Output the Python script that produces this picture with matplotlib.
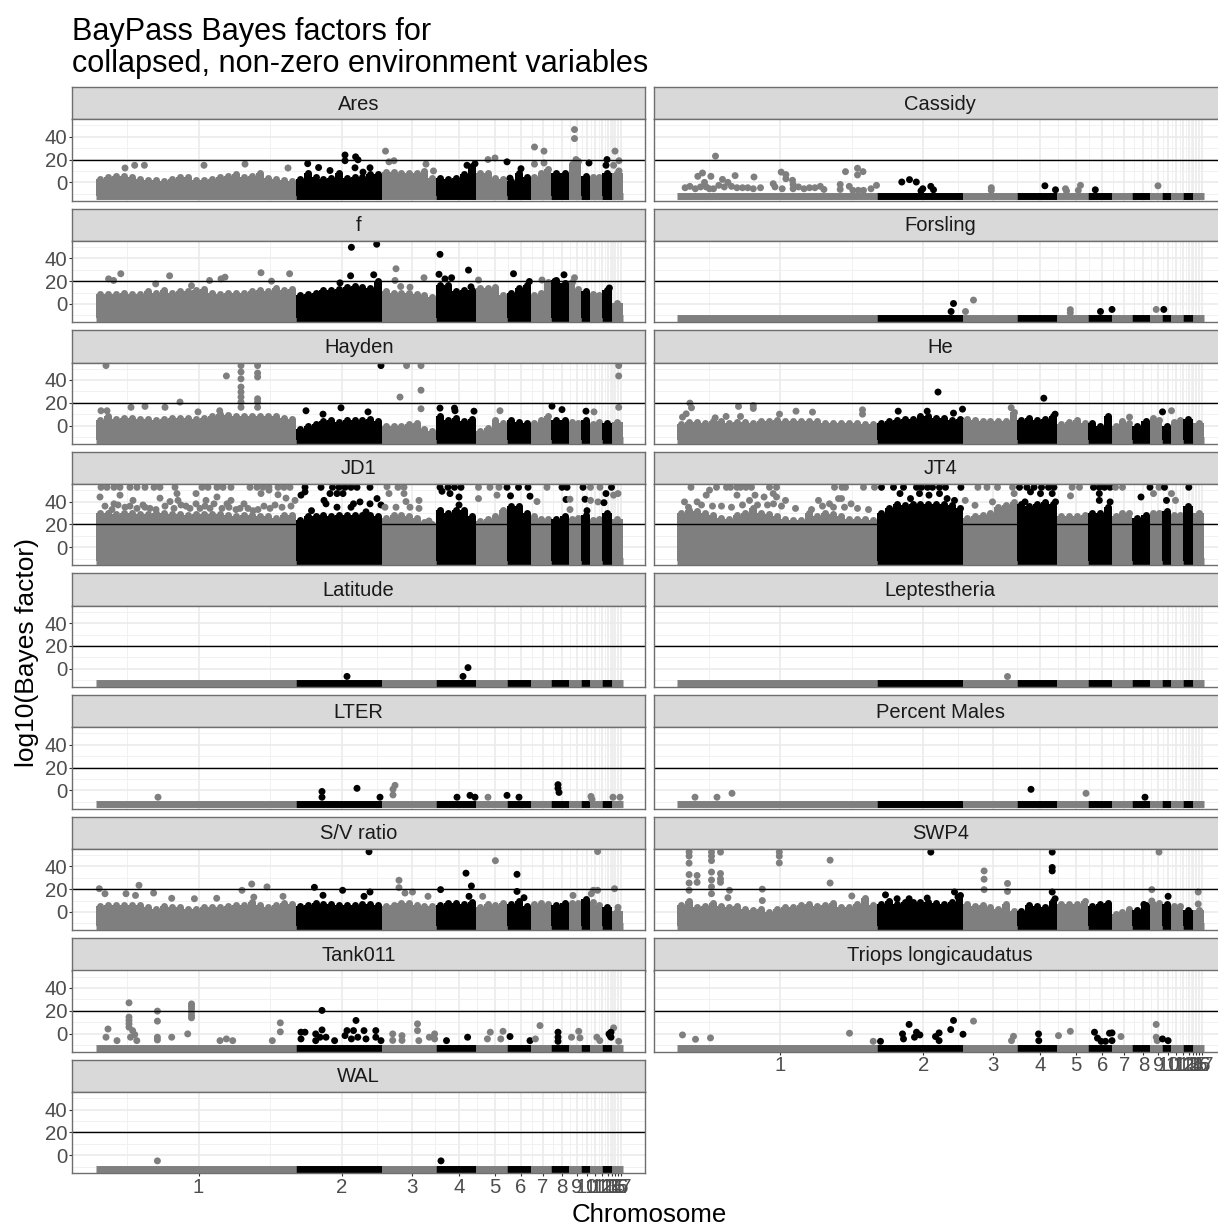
import numpy as np
import matplotlib
matplotlib.use("Agg")
import matplotlib.pyplot as plt

plt.rcParams['font.family'] = ['Liberation Sans', 'DejaVu Sans']

# ---------- chromosomes (cumulative genome position) ----------
chrom_labels = [str(i) for i in range(1, 18)]
chrom_mids = [198.6, 341.7, 411.6, 458.8, 494.5, 521, 543, 562, 577, 587, 595, 602, 607.5, 611.5, 615, 618, 621]
chrom_edges = [95.5, 296, 382, 436, 476, 507, 531, 551, 569, 581, 590, 602, 612, 622.5]
bins_per_block = [25, 11, 7, 5, 4, 3, 3, 2, 2, 1, 2, 1, 1]
threshold = 20
floor_value = -12.3

# ---------- upper envelope of the dense point clouds, per genome bin ----------
ares_top = [3,5,6,6,5,3,2,2,1,3,5,5,2,2,3,5,6,7,5,6,8,4,3,2,1, 3,8,5,3,4,8,4,5,5,7,7, 9,9,8,8,8,10,4,
            4,3,4,7,14, 8,8,4,3, 1,8,5, 5,8,12, 8,8, 16,19, 6, 5,5, 8, 8]
f_top = [9,9,9,10,9,9,11,10,12,10,11,11,12,13,10,9,10,10,10,11,12,11,14,12,13, 8,9,10,12,12,13,15,16,15,14,20,
         11,10,10,10,9,8,6, 17,17,11,12,12, 14,14,15,8, 10,14,17, 8,10,19, 21,18, 19,13, 11, 9,8, 12, 1]
hayden_top = [5,8,6,7,7,6,6,5,6,7,7,7,6,7,8,10,9,8,8,8,8,8,8,7,6, -3,0,1,4,5,3,5,5,5,6,4,
              0,0,0,1,2,-3,-5, 8,5,7,4,6, -5,-2,5,2, 5,3,2, 2,5,8, 5,5, 3,2, 5, 1,3, 2, 3]
he_top = [1,3,3,2,4,4,2,3,3,2,4,4,5,4,4,4,4,4,2,2,2,2,2,1,1, 2,4,5,6,6,8,8,7,7,5,6,
          6,5,4,4,4,4,12, 5,7,5,6,8, 1,3,5,2, 2,0,8, 0,4,2, 0,4, 7,5, 0, 3,5, 6, 2]
jd1_top = [30,30,29,30,30,29,29,30,30,29,29,28,29,29,29,29,28,27,28,28,27,27,26,28,28,
           24,27,27,28,27,28,28,28,28,28,27, 26,28,28,27,26,22,20, 33,30,33,33,27,
           23,25,27,33, 36,36,30, 27,25,25, 25,27, 25,26, 28, 24,25, 30, 25]
jt4_top = [30,33,32,30,28,26,25,28,30,34,30,29,27,25,24,24,30,27,30,29,27,25,25,25,24,
           30,34,38,37,38,38,38,38,38,37,34, 26,27,28,30,35,37,40, 38,36,38,40,38,
           27,27,27,28, 30,30,35, 27,30,30, 26,28, 30,30, 32, 28,28, 36, 30]
sv_top = [5,6,6,6,6,6,4,3,5,4,4,3,3,4,4,4,5,6,6,9,6,4,6,8,7, 5,6,8,7,7,6,6,6,7,7,6,
          5,6,8,8,6,5,5, 6,8,8,7,9, 4,7,6,8, 7,10,5, 7,8,7, 6,8, 8,8, 11, 9,6, 4, 1]
swp4_top = [6,10,4,5,8,5,4,5,3,2,3,0,3,4,4,6,7,5,6,8,4,4,7,12,6, 7,10,7,9,9,9,9,8,7,9,15,
            7,5,6,4,3,7,1, 1,6,5,4,10, 7,7,7,10, 5,7,8, -2,0,3, 2,6, 7,8, 7, 5,5, 2, 2]

# ---------- individual points: (genome position, log10 Bayes factor) ----------
ares_pts = [(125,12.6),(134.7,15),(144.4,15),(204,15),(245,16),(288,12.6),(307.7,16.4),(318.6,13),(330,10.4),
            (345,24),(345,19),(355.6,22.4),(358,19.8),(355,12.8),(370,12.8),(363,9),(385.5,27.4),(389,18),(394,19),
            (426,16),(433.5,10),(475,16.4),(467,15),(488,20),(495,21.4),(507,18),(510,3.7),(521,12),(534.5,31),
            (544,27.4),(534.5,16),(544,17),(574.5,46.3),(574.5,38.4),(576,20),(589,17),(607,20),(606,15),(613.6,15),
            (615,27.4),(619,19),(619,10),(619,3)]
f_pts = [(108.6,22),(120.8,26.5),(113.6,20.6),(169.6,24.7),(155.7,17.6),(191.5,16),(209.6,20.6),(221,22),(225,23.5),
         (261,27.4),(271.5,20),(289.6,26.5),(351.4,49.7),(376.7,52.4),(350.6,24.7),(373.7,25.6),(340,18.5),(396,30.9),
         (395,20.6),(400.7,15.3),(410,14.7),(424,23),(440,43.5),(439,26),(468.5,29.7),(445,22),(451.6,23),(471,15),
         (478.5,21),(513.5,26.5),(529.4,19.7),(542,21),(564,25.6),(555,20),(574.5,23),(609.4,14)]
hayden_pts = [(106,52.6),(226.4,43.5),(241,52.6),(241,47),(241,41),(241,33.8),(241,29.4),(241,25),(241,20.6),(241,16),
              (257.6,52.6),(257.6,46),(257.6,42.6),(257.6,23.5),(257.6,20.6),(257.6,16),(180,20.6),(165,16),(131,16),
              (145,16.8),(101,13),(107,13),(219.7,13),(198,12),(381,52.6),(306,13),(323,10),(341,15.6),(368,12),
              (406.6,52.6),(421,52.6),(421,31),(400,25),(421,14.7),(440,15.3),(454.5,15.3),(455,13),(474,12.6),
              (500,13),(552,17),(562,14),(586,12.6),(594,12),(618.7,52.6),(618.7,43.5),(618.7,16)]
he_pts = [(108.4,19.7),(110,15.6),(104.7,10.3),(101,7.4),(157,16.8),(171.8,17.6),(171.8,15),(133.7,6.8),(144.6,8),
          (159,8),(214.5,12.6),(231,11.8),(198,10),(281,13.8),(281,10),(356.5,29.4),(381,14.4),(316.7,12.6),
          (345.7,12.6),(372,10.9),(429.7,15.6),(462.3,24),(473.6,10),(548,7.4),(581,12),(590,13)]
jd1_pts = [(101,52.5),(107,52.5),(114,52.5),(120,52.5),(130,52.5),(137,52.5),(145,52.5),(154,52.5),(160,52.5),(175,52.5),
           (202,52.5),(208,52.5),(217,52.5),(223,52.5),(231,52.5),(250,52.5),(257,52.5),(263,52.5),(269,52.5),(278,52.5),
           (284,52.5),(290,52.5),(100,44),(120,45.6),(114,38),(133,41),(143,37),(160,43),(170,40),(177,47),(181,37),
           (196,47),(206,41),(217,44),(227,38),(231,41),(244,38),(261,47),(269,50),(278,46),(286,43),(295,41),(253,32),
           (125,35),(150,34),(190,34),(210,34),(240,34),(270,34),
           (105,36),(112,33),(118,37),(130,36),(137,34),(145,35),(156,33),(165,36),(174,34),(178,41),(186,36),(196,38),
           (200,34),(205,36),(214,38),(222,34),(229,35),(236,33),(248,34),(258,33),(264,36),(275,37),(282,35),(291,36),
           (305,52.5),(321,52.5),(332.5,52.5),(339,52.5),(345,52.5),(351,52.5),(357,52.5),(370,52.5),(305,48.5),(301,45.6),
           (330,47),(337,47),(343,47),(377,42.6),(324,41),(326,38),(360,39.7),(353.5,38),(370,38),(381,37),(311.5,32),
           (337,35),(351,35),(366,31),
           (387,53),(398,52.5),(404,52.5),(389,47),(404,47),(406,40),(396,35),(419,41),(419,34),(385,35),(410,35),(429,23),
           (440,52.5),(448,52.5),(454.5,52.5),(461,52.5),(442,49),(450,47),(459,44),(459,37),
           (478.5,52.5),(490,52.5),(499,52.5),(507,52.5),(478.5,42.6),(497,45.6),
           (510.5,45),(518.5,52.5),(528,52.5),(530,44.7),(537,40),(547,52.5),(562,52.5),(567,52.5),(566,41.8),(570,33),
           (570,42),(583,52.5),(585,42),(590.5,41),(590.5,52.5),(587,32),(600,52.5),(598,39.7),(604,39),
           (611.5,52.5),(606,47),(613.6,45.6),(618,47)]
jt4_pts = [(109.5,52.5),(135,52.5),(145,52.5),(149,52.5),(155.5,52.5),(159,52.5),(164.5,52.5),(170,52.5),(188,52.5),(195,52.5),
           (253,52.5),(260.5,52.5),(264,52.5),(282,52.5),(293,52.5),(128,50),(124.7,45.6),(155.5,45.6),(191.7,47),(195,44),
           (173.5,45.6),(182.6,44),(257,42.6),(260,42.6),(103,39.7),(237,41),(168,41),(204,41),(115.6,39.7),(248,38),(269.6,38),
           (107,35),(120,37),(131,36),(140,36),(150,35),(161,37),(176,37),(186,37),(192,38),(200,36),(214,34),(230,33),
           (241,36),(252,35),(263,35),(276,34),(287,33),
           (300,52.5),(312,52.5),(322,52.5),(335,52.5),(340,52.5),(346,52.5),(351,52.5),(358,52.5),(364,52.5),(379.4,52.5),
           (318.5,47),(338,47),(347.5,45.6),(358,47),(329,42.6),(365.6,42.6),(373,41),(383.7,41),
           (396.4,52.5),(405.5,52.5),(416,52.5),(431,52.5),(432.6,47),(393.5,36.7),(411,39.7),
           (438,52.5),(445.4,52.5),(452.6,52.5),(460,52.5),(467,52.5),(472.5,52.5),(449,48.5),(459,47),(470.7,47),(443.5,39.7),(474,39.7),
           (490.6,52.5),(498,52.5),(512,52.5),(489,45),(517.8,52.5),(523,52.5),(528.6,52.5),(517.8,47),(517.8,41),(528.6,39.7),
           (534,52.5),(541,52.5),(559.5,44),(568.5,52.5),(577.5,52.5),(583,52.5),(572,47),(590,47),(585,41),(594,41),(607.3,52.5)]
sv_pts = [(99.3,20.4),(105,16),(126,16),(139,23.4),(135.5,14.5),(153.6,16.6),(171.7,12),(194.4,11.6),(216.7,12),(242,19),
          (251.7,24.5),(267,22),(253.8,13),(283,13.7),(369,52.8),(314.4,21.6),(323,14.6),(342.6,19),(370,17.5),(364,13.7),
          (399,27.8),(399,21.3),(405,16.6),(428,13.7),(412.5,17.5),(440.6,19.6),(466,34),(471.4,22.8),(469,13.7),(495.4,45),
          (482.7,13.7),(517,33),(517,18),(524,12.5),(573,14.5),(591.3,16),(593.4,19),(597.6,53),(597.6,19),(614.5,20.4),(618,4)]
swp4_pts = [(107.6,52.5),(107.6,49),(107.6,42.8),(107.6,32.8),(107.6,25.4),(107.6,19),(115.6,32),(115.6,26),
            (130,52.5),(130,49),(130,45),(130,35),(130,28),(130,22),(130,16),(139,52.5),(139,33.7),(139,29),(139,26),
            (148,19),(146.4,12.5),(197.8,52.5),(197.8,49),(197.8,43),(180.8,20),(180.8,10),(248.6,45.4),(248.6,25.4),(270.3,14),
            (349.3,52.5),(304,15),(315.6,11.6),(327.6,11.6),(345.7,12.2),(373,17.5),(376.5,13),
            (402.6,36),(402.6,28.7),(402.6,19.6),(426,25),(426,18),(470.7,52.5),(470.7,39),(470.7,36),(470.7,17.5),(473.6,11.6),
            (562.4,6.6),(577.5,52.5),(570.3,19.6),(570.3,9.6),(586.6,13.7),(616.7,17.5),(616.7,7)]
cassidy_pts = [(134,23),(121,8.2),(116.3,5.3),(129.4,5.3),(153.6,5.9),(172.5,4.7),(199.7,9),(204.4,6.8),(204.4,3.2),(264,9.4),
               (276,12.4),(281.5,9.4),(276,6.5),(295,-2.6),(141,2.6),(123,0),(146.4,0),(211,1.8),(211.6,-1.8),
               (103.6,-4.7),(108.4,-3.5),(113.8,-5.6),(119,-4),(124.7,-4),(128,-5.6),(132,-5.6),(137.3,-2.6),(142.8,-4),(150,-3.5),
               (155.5,-4.7),(161,-4.7),(166.3,-4.7),(171.8,-5.6),(179,-4.7),(191.7,-1.2),(193.5,-4),(200.7,-5.6),(211.6,-5.6),
               (217,-4),(222.5,-5.6),(228,-4.7),(233.4,-4.7),(238.8,-3.5),(242.4,-6.2),(258.7,-1.8),(258.7,-6.2),(267.8,-3.5),
               (271.4,-7),(276.8,-7),(282,-7),(289.5,-5.6),(320.3,0.3),(328,2.4),(334.8,0.3),(349.3,-3.5),(341.3,-5.6),(339.5,-7.5),
               (352,-6.5),(409.8,-4.7),(409.8,-7),(463.4,-3),(474,-6.5),(484,-5.6),(485,-7.6),(499,-2.6),(496.8,-7),(513.8,-6.5),(576.5,-3)]
forsling_pts = [(372,0.4),(392,3.4),(369.6,-6.6),(384,-6.6),(488.8,-5),(488.8,-7.8),(519,-6.6),(530.5,-4.8),(574.7,-4.8),(582.3,-4.8)]
latitude_pts = [(347,-6.7),(468,1),(463,-6.7)]
leptestheria_pts = [(425.5,-6.7)]
lter_pts = [(322,-1),(322,-6),(357,1.8),(380,-6),(393,1),(395,4.4),(393,-4),(158,-6),(457,-6),(470,-4.4),(475,-6),(488,-6),
            (507,-4.4),(519,-6),(558,5),(558,1.8),(559,-1.8),(591,-5.3),(592,-7.9),(613,-6),(620,-6)]
males_pts = [(113.5,-6),(135.5,-6),(150.5,-2.6),(449.5,0.9),(504.5,-2.6),(563.5,-6)]
tank_pts = [(129,27),(129,14.4),(129,11.5),(129,8.5),(129,5.6),(132.6,2.6),(134.7,-0.9),(136.8,-6.2),(130.5,-3.2),(108,4),(106,-3.2),
            (117,-6.2),(157.4,19.7),(157.4,10.9),(157.4,-3.2),(157.4,-5.6),(171.7,-3.2),(187.7,-0.3),(191.5,26),(191.5,24),(191.5,21.8),
            (191.5,18.8),(191.5,15.9),(191.5,13.8),(220,-6.2),(226.4,-4.7),(232.7,-6.2),(272.3,-6.2),(280.3,9.4),(280.3,1.5),
            (322,20.3),(301,1.2),(305,1.2),(301,-4.7),(322,3.2),(315.7,-0.3),(320,-3.2),(326,-3.2),(334.6,-6.2),(347,2.6),(356,11.5),
            (353.5,2.6),(364,2.6),(375.8,2.6),(351.4,-4.7),(357.8,-3.2),(366,-4.7),(375.8,-3.2),(381,-6.2),(345,-1.8),(315.7,-6.2),
            (392.7,-0.3),(392.7,-6),(402,-1.8),(402,-6),(417.5,8.5),(417.5,2.6),(418.8,-6.2),(429.3,-3.2),(434.6,-0.3),(434.6,-4.7),
            (446.5,-6.2),(467.6,-3.2),(490.3,1.2),(487.4,-4.7),(503,2),(500.8,-4.7),(510,-2.6),(530,-6.2),(540,7),(535.4,-4.7),
            (558,1.2),(558,-3.2),(558,-6.8),(571.5,-3.2),(578.7,2),(580,-3.8),(596.8,-3.2),(599.8,-6.2),(613.6,5),(609,-0.3),
            (611,1.2),(611,-3.2),(610,-1.8),(618.7,-6.8)]
triops_pts = [(101,-1.2),(114,-5),(129,-3.8),(268,0.3),(291.7,-6.8),(299,-6.8),(327.6,8),(321,-0.3),(322,-4.7),(335,1.2),(338.4,-1.2),
              (333,-3.2),(354,-2.6),(357.6,0.6),(357.6,-6.2),(369.2,3.5),(372,11.5),(381.5,-0.6),(392,10.9),(432,-2.4),(430,-6.2),
              (457,-0.3),(457.3,-6.2),(477,-1.8),(488.8,2),(513,1.2),(516,-4),(519.6,-6.8),(524,-6.8),(528,0.3),(530.5,0.6),(530.5,-6.2),
              (539.5,-2.6),(574.7,8),(574.7,-3.2),(575.7,-6.2),(581,-4.7),(586.6,-6.2)]
wal_pts = [(157.4,-5),(441,-5)]

panel_names = ["Ares", "Cassidy", "f", "Forsling", "Hayden", "He", "JD1", "JT4", "Latitude", "Leptestheria",
               "LTER", "Percent Males", "S/V ratio", "SWP4", "Tank011", "Triops longicaudatus", "WAL"]
panel_tops = [ares_top, None, f_top, None, hayden_top, he_top, jd1_top, jt4_top, None, None,
              None, None, sv_top, swp4_top, None, None, None]
panel_pts = [ares_pts, cassidy_pts, f_pts, forsling_pts, hayden_pts, he_pts, jd1_pts, jt4_pts, latitude_pts, leptestheria_pts,
             lter_pts, males_pts, sv_pts, swp4_pts, tank_pts, triops_pts, wal_pts]

# ---------- layout ----------
W, H = 1218, 1225
GREY, BLACK = "#7F7F7F", "#000000"
fig = plt.figure(figsize=(W / 100, H / 100), dpi=100, facecolor="white")

def box(l, t, r, b):
    return [l / W, 1 - b / H, (r - l) / W, (b - t) / H]

def colour_of(x):
    i = np.searchsorted(chrom_edges, x, side="right") - 1
    i = np.clip(i, 0, len(chrom_edges) - 2)
    return BLACK if i % 2 else GREY

mids = np.array(chrom_mids)
minor_x = np.r_[mids[0] - (mids[1] - mids[0]) / 2, (mids[:-1] + mids[1:]) / 2]

for k, name in enumerate(panel_names):
    col, row = k % 2, k // 2
    left = 72.4 + col * 581.5
    right = left + 572.6
    strip_top = 87 + row * 121.6
    top = 119.3 + row * 121.6
    bottom = 200.5 + row * 121.6

    sax = fig.add_axes(box(left, strip_top, right, top), facecolor="#D9D9D9")
    sax.set_xticks([]); sax.set_yticks([])
    for s in sax.spines.values():
        s.set_color("#6E6E6E"); s.set_linewidth(1.0)
    sax.text(0.5, 0.47, name, transform=sax.transAxes, ha="center", va="center", fontsize=14.5, color="#1A1A1A")

    ax = fig.add_axes(box(left, top, right, bottom), facecolor="white")
    ax.set_xlim(72.4, 645)
    ax.set_ylim(-15.9, 55.3)
    ax.set_axisbelow(True)
    for g in chrom_mids:
        ax.axvline(g, color="#EBEBEB", lw=1.2, zorder=0.5)
    for g in minor_x:
        ax.axvline(g, color="#EFEFEF", lw=0.6, zorder=0.5)
    for g in [0, 20, 40]:
        ax.axhline(g, color="#EBEBEB", lw=1.2, zorder=0.5)
    for g in [-10, 10, 30, 50]:
        ax.axhline(g, color="#EFEFEF", lw=0.6, zorder=0.5)

    # floor of points at the lower limit
    for j in range(len(chrom_edges) - 1):
        a, b = chrom_edges[j], chrom_edges[j + 1]
        c = BLACK if j % 2 else GREY
        ax.plot([a, b], [floor_value, floor_value], color=c, lw=5.0, solid_capstyle="butt", zorder=2)

    tops = panel_tops[k]
    if tops is not None:
        i = 0
        for j, n in enumerate(bins_per_block):
            a, b = chrom_edges[j], chrom_edges[j + 1]
            c = BLACK if j % 2 else GREY
            wid = (b - a) / n
            xs = a + wid * (np.arange(n) + 0.5)
            hs = np.array(tops[i:i + n], dtype=float)
            ax.bar(xs, hs - floor_value, width=wid, bottom=floor_value, color=c, linewidth=0, zorder=2)
            ax.scatter(xs, hs, s=25, color=c, linewidths=0, zorder=2)
            i += n

    pts = panel_pts[k]
    if pts:
        px = [p[0] for p in pts]
        py = [p[1] for p in pts]
        ax.scatter(px, py, s=25, c=[colour_of(x) for x in px], linewidths=0, zorder=3)

    ax.axhline(threshold, color="black", lw=1.0, zorder=4)

    for s in ax.spines.values():
        s.set_color("#6E6E6E"); s.set_linewidth(1.0); s.set_zorder(5)

    is_left = col == 0
    is_bottom = name in ("WAL", "Triops longicaudatus")
    ax.set_yticks([0, 20, 40] if is_left else [])
    if is_left:
        ax.set_yticklabels(["0", "20", "40"])
    ax.tick_params(axis="y", length=2.2, width=0.8, color="#333333", labelsize=14.7, labelcolor="#4D4D4D", pad=1.5)
    if is_bottom:
        ax.set_xticks(chrom_mids)
        ax.set_xticklabels(chrom_labels)
        ax.tick_params(axis="x", length=2.2, width=0.8, color="#333333", labelsize=14.7, labelcolor="#4D4D4D", pad=1)
    else:
        ax.set_xticks([])

fig.text(72 / W, 1 - 79 / H, "BayPass Bayes factors for\ncollapsed, non-zero environment variables",
         ha="left", va="bottom", fontsize=22.1, color="black", linespacing=1.07)
fig.text(649 / W, 1 - 1214.5 / H, "Chromosome", ha="center", va="center", fontsize=18.6, color="black")
fig.text(27 / W, 1 - 653 / H, "log10(Bayes factor)", ha="center", va="center", rotation=90, fontsize=19, color="black")

fig.savefig("out.png", dpi=100, facecolor="white")
